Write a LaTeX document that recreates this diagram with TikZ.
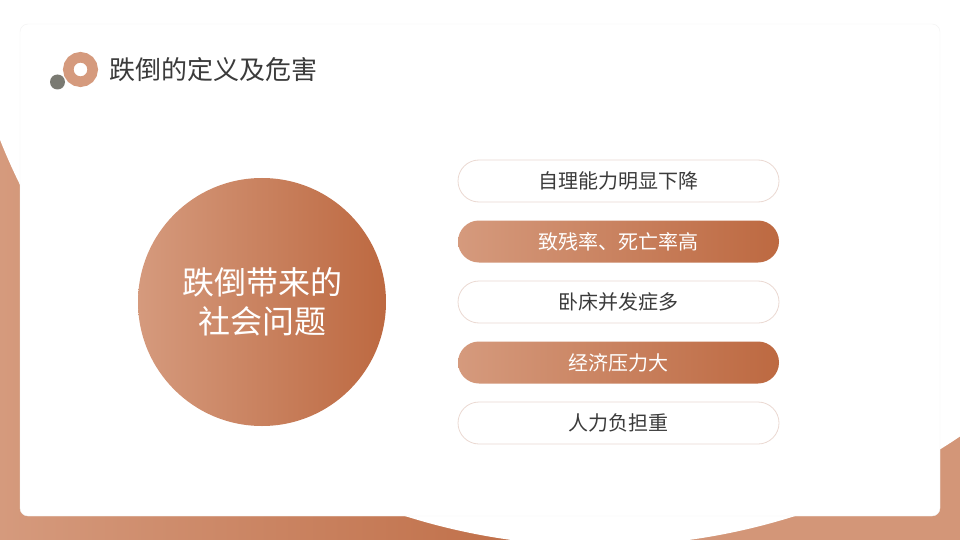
\documentclass[tikz,border=0pt]{standalone}
\usepackage{fontspec}
\setmainfont{Noto Sans CJK SC}
\usetikzlibrary{shapes.misc}
\definecolor{clay}{HTML}{D59A7D}
\definecolor{rust}{HTML}{BD6941}
\definecolor{ink}{HTML}{3B3B3B}
\definecolor{slate}{HTML}{7A7A72}
\definecolor{edge}{HTML}{EBD9D2}
\tikzset{
	pill/.style={rounded rectangle, minimum width=321pt, minimum height=42pt, inner sep=0pt, font=\fontsize{20}{20}\selectfont},
	plainpill/.style={pill, draw=edge, line width=0.8pt, fill=white, text=ink},
	warmpill/.style={pill, left color=clay, right color=rust, text=white}
}
\begin{document}
\begin{tikzpicture}[x=1pt,y=-1pt]
	\useasboundingbox (0,0) rectangle (960,540);
	% backdrop
	\fill [white] (0,0) rectangle (960,540);
	\shade [left color=clay, right color=rust] (0,0) rectangle (600,540);
	\fill [clay!92!rust] (600,0) rectangle (960,540);
	\fill [white] (600,-100) circle (646pt);
	\draw [black!5, fill=white, rounded corners=8pt] (20,24) rectangle (940,516);
	% heading
	\fill [slate] (57.5,82) circle (7.5pt);
	\draw [clay, line width=10.5pt] (80.5,69.5) circle (12.2pt);
	\node [anchor=west, inner sep=0pt, text=ink, font=\fontsize{26}{26}\selectfont] (title) at (109,70) {跌倒的定义及危害};
	% hub
	\node [circle, minimum size=248pt, inner sep=0pt, left color=clay, right color=rust, text=white, align=center, font=\fontsize{32}{39}\selectfont] (hub) at (262,302) {跌倒带来的\\社会问题};
	% items
	\node [plainpill] (p1) at (618.5,181) {自理能力明显下降};
	\node [warmpill] (p2) at (618.5,241.5) {致残率、死亡率高};
	\node [plainpill] (p3) at (618.5,302) {卧床并发症多};
	\node [warmpill] (p4) at (618.5,362.5) {经济压力大};
	\node [plainpill] (p5) at (618.5,423) {人力负担重};
\end{tikzpicture}
\end{document}
